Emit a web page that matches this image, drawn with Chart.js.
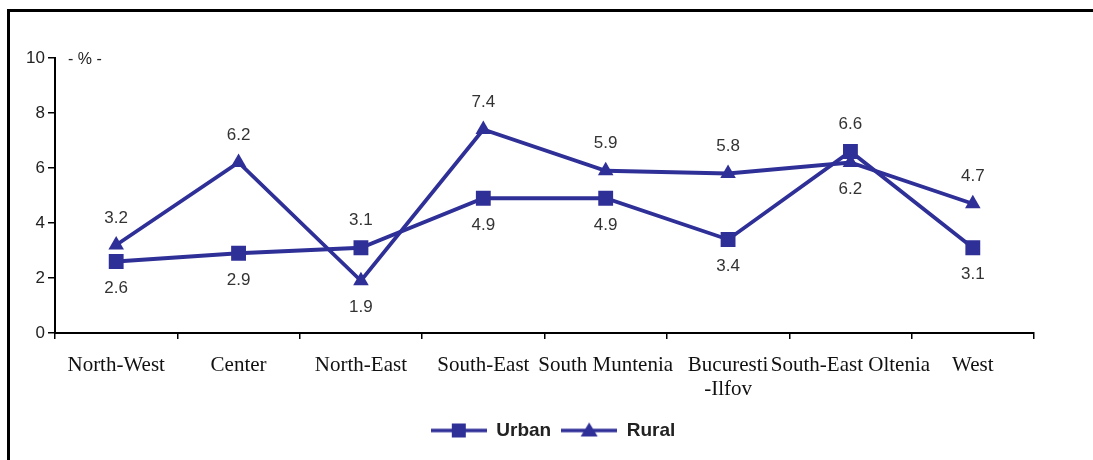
<!DOCTYPE html>
<html><head><meta charset="utf-8">
<script src="https://cdn.jsdelivr.net/npm/chart.js@4.4.1/dist/chart.umd.min.js"></script>
<style>
html,body{margin:0;padding:0;background:#fff;}
#wrap{position:relative;width:1093px;height:460px;overflow:hidden;}
#frame{position:absolute;left:7px;top:9px;right:-5px;bottom:-5px;border-left:3px solid #000;border-top:3px solid #000;}
canvas{position:absolute;left:0;top:0;}
</style></head><body>
<div id="wrap"><div id="frame"></div><canvas id="c" width="1093" height="460"></canvas></div>
<script>
const categories = ["North-West", "Center", "North-East", "South-East", "South Muntenia", ["Bucuresti", "-Ilfov"], "South-East Oltenia", "West"];
const urban = [2.6, 2.9, 3.1, 4.9, 4.9, 3.4, 6.6, 3.1];
const rural = [3.2, 6.2, 1.9, 7.4, 5.9, 5.8, 6.2, 4.7];
const yTicks = [0, 2, 4, 6, 8, 10];
const unitLabel = "- % -";

const COLOR = '#2f2f98';

function makeIcon(kind) {
  const c = document.createElement('canvas');
  c.width = 56; c.height = 20;
  const g = c.getContext('2d');
  g.strokeStyle = COLOR; g.lineWidth = 3.5;
  g.beginPath(); g.moveTo(0, 10); g.lineTo(56, 10); g.stroke();
  g.fillStyle = COLOR;
  if (kind === 'rect') { g.fillRect(21, 3, 14, 14); }
  else { g.beginPath(); g.moveTo(28, 2); g.lineTo(36.5, 16); g.lineTo(19.5, 16); g.closePath(); g.fill(); }
  return c;
}
const icons = { rect: makeIcon('rect'), triangle: makeIcon('triangle') };

const valueLabels = {
  id: 'valueLabels',
  afterDatasetsDraw(chart, args, opts) {
    const ctx = chart.ctx;
    ctx.save();
    ctx.font = '17px "Liberation Sans", Arial, sans-serif';
    ctx.fillStyle = '#333';
    ctx.textAlign = 'center';
    ctx.textBaseline = 'middle';
    chart.data.datasets.forEach((ds, di) => {
      const meta = chart.getDatasetMeta(di);
      const sides = opts.sides[di];
      meta.data.forEach((pt, i) => {
        const off = sides[i] === 'above' ? -opts.offset : opts.offset;
        ctx.fillText(ds.data[i].toFixed(1), pt.x, pt.y + off);
      });
    });
    ctx.restore();
  }
};

const unitPlugin = {
  id: 'unitPlugin',
  afterDraw(chart) {
    const ctx = chart.ctx;
    const y = chart.scales.y;
    ctx.save();
    ctx.font = '16px "Liberation Sans", Arial, sans-serif';
    ctx.fillStyle = '#222';
    ctx.textAlign = 'left';
    ctx.textBaseline = 'middle';
    ctx.fillText(unitLabel, chart.chartArea.left + 13, y.getPixelForValue(yTicks[yTicks.length - 1]) + 2);
    ctx.restore();
  }
};

const legendShift = {
  id: 'legendShift',
  afterLayout(chart, args, opts) {
    const lg = chart.legend;
    if (!lg) return;
    lg.left += opts.dx; lg.right += opts.dx;
    if (lg.legendHitBoxes) lg.legendHitBoxes.forEach(b => { b.left += opts.dx; });
  }
};

new Chart(document.getElementById('c'), {
  type: 'line',
  data: {
    labels: categories,
    datasets: [
      { label: 'Urban', data: urban, borderColor: COLOR, backgroundColor: COLOR, borderWidth: 3.8,
        pointStyle: 'rect', pointRadius: 10.5, pointHoverRadius: 10.5, pointBorderWidth: 0, tension: 0, fill: false },
      { label: 'Rural', data: rural, borderColor: COLOR, backgroundColor: COLOR, borderWidth: 3.8,
        pointStyle: 'triangle', pointRadius: 9, pointHoverRadius: 9, pointBorderWidth: 0, tension: 0, fill: false }
    ]
  },
  options: {
    responsive: false,
    animation: false,
    layout: { padding: { left: 0, right: 59, top: 58, bottom: 10 } },
    scales: {
      x: {
        type: 'category',
        offset: true,
        grid: { display: true, drawOnChartArea: false, offset: true, color: '#000', tickLength: 6, lineWidth: 1.5 },
        border: { display: true, color: '#000', width: 2 },
        ticks: { autoSkip: false, maxRotation: 0, minRotation: 0, color: '#111', padding: 14,
          font: { family: '"Liberation Serif", "Times New Roman", serif', size: 21, lineHeight: 1.15 } },
        afterFit(s) { s.height = 78; }
      },
      y: {
        min: yTicks[0], max: yTicks[yTicks.length - 1],
        afterBuildTicks(s) { s.ticks = yTicks.map(v => ({ value: v })); },
        grid: { display: true, drawOnChartArea: false, color: '#000', tickLength: 7, lineWidth: 1.5 },
        border: { display: true, color: '#000', width: 2 },
        ticks: { color: '#222', padding: 3, font: { family: '"Liberation Sans", Arial, sans-serif', size: 17 } },
        afterFit(s) { s.width = 55; }
      }
    },
    plugins: {
      legend: {
        position: 'bottom',
        labels: {
          usePointStyle: true,
          pointStyleWidth: 56,
          boxHeight: 20,
          padding: 10,
          color: '#222',
          font: { family: '"Liberation Sans", Arial, sans-serif', size: 19, weight: 'bold' },
          generateLabels(chart) {
            const items = Chart.defaults.plugins.legend.labels.generateLabels(chart);
            items.forEach((it, i) => { it.pointStyle = icons[chart.data.datasets[i].pointStyle]; });
            return items;
          }
        }
      },
      tooltip: { enabled: false },
      legendShift: { dx: 36 },
      valueLabels: { offset: 27, sides: [
        ['below', 'below', 'above', 'below', 'below', 'below', 'above', 'below'],
        ['above', 'above', 'below', 'above', 'above', 'above', 'below', 'above']
      ] }
    }
  },
  plugins: [valueLabels, unitPlugin, legendShift]
});
</script>
</body></html>
